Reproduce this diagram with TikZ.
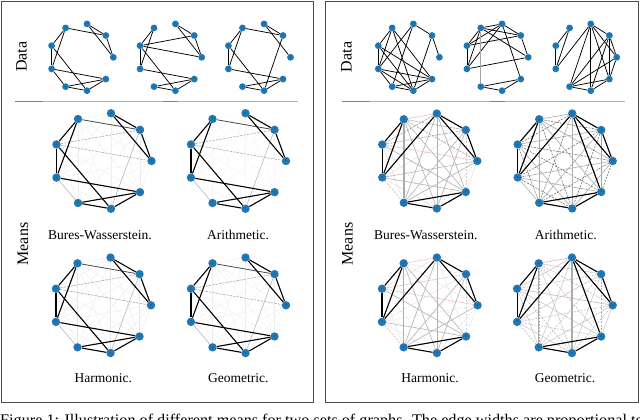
\documentclass[tikz,border=0pt]{standalone}
\usepackage{fontspec}
\setmainfont{Liberation Serif}
\usetikzlibrary{calc}
\pgfdeclarelayer{bg}
\pgfsetlayers{bg,main}
\definecolor{mplblue}{HTML}{1F77B4}
\definecolor{framecol}{HTML}{4A4A4A}
\tikzset{
 vtx/.style={circle,fill=mplblue,inner sep=0pt,minimum size=8.4pt,font=\fontsize{3}{3}\selectfont,text=black!80},
 dvtx/.style={vtx,minimum size=6.8pt,font=\fontsize{2.5}{2.5}\selectfont},
 de/.style={black,line width=0.75pt},
 sA/.style={black,line width=1.1pt},
 sB/.style={black!70,line width=0.8pt},
 sC/.style={gray!60,line width=0.5pt},
 sG/.style={gray!65,line width=1.4pt},
 sD/.style={gray!75,line width=0.5pt,dash pattern=on 2.2pt off 1.3pt},
 sR/.style={red!35,line width=0.45pt,dash pattern=on 2pt off 1.5pt},
 lab/.style={font=\fontsize{13.5}{15}\selectfont,anchor=base,inner sep=0pt},
 side/.style={font=\fontsize{16}{18}\selectfont,rotate=90,inner sep=0pt},
 frame/.style={framecol,line width=0.9pt},
 sepl/.style={gray!60,line width=1pt},
 sepd/.style={gray!100,line width=1pt}
}
% #1 node style, #2 prefix, #3 cx, #4 cy, #5 rx, #6 ry
\newcommand\mkgraph[6]{\foreach \i in {0,...,8}{\node[#1] (#2\i) at ({#3+#5*cos(\i*40)},{#4-#6*sin(\i*40)}) {\i};}}
\newcommand\edg[3]{\begin{pgfonlayer}{bg}\foreach \a/\b in {#3}{\draw[#2] (#1\a) -- (#1\b);}\end{pgfonlayer}}
\newcommand\allp[3]{\begin{pgfonlayer}{bg}\foreach \i in {0,...,7}{\pgfmathtruncatemacro\jj{\i+1}\foreach \k in {\jj,...,8}{\pgfmathtruncatemacro\pp{mod(\i+\k,2)}\ifnum\pp=0 \draw[#2] (#1\i) -- (#1\k);\else\draw[#3] (#1\i) -- (#1\k);\fi}}\end{pgfonlayer}}
\begin{document}
\begin{tikzpicture}[x=1pt,y=-1pt]
\useasboundingbox (0,0) rectangle (640,420);
\begin{pgfonlayer}{bg}
\fill[white] (0,0) rectangle (640,420);
\end{pgfonlayer}
% frames
\draw[frame] (1.5,1.5) rectangle (313.3,402.3);
\draw[frame] (325.7,1.5) rectangle (638.3,402.3);
% separators
\draw[sepl] (15,101) -- (298,101);
\draw[sepd] (15,101) -- (43.3,101);
\draw[sepd] (163.3,101) -- (178.3,101);
\draw[sepl] (341.7,101) -- (625,101);
\draw[sepd] (341.7,101) -- (370,101);
\draw[sepd] (490,101) -- (505,101);
% side labels
\node[side] (dl) at (21.5,56.7) {Data};
\node[side] (ml) at (23,244) {Means};
\node[side] (dr) at (346.5,57) {Data};
\node[side] (mr) at (347.5,244) {Means};
% ---------- left data graphs
\mkgraph{dvtx}{A}{81.5}{57.3}{31.8}{33.9}
\edg{A}{de}{3/1,2/1,2/0,1/0,3/4,3/5,4/5,4/7,5/8,5/6,6/8,6/7,7/8}
\mkgraph{dvtx}{B}{169.9}{57.3}{31.8}{33.9}
\edg{B}{de}{3/4,3/5,4/5,4/1,4/0,4/7,2/1,2/0,1/0,5/8,6/8,6/7,7/8}
\mkgraph{dvtx}{C}{258.5}{57.3}{32}{33.9}
\edg{C}{de}{3/1,2/1,2/0,3/4,3/5,4/5,4/7,1/7,5/8,6/8,6/7,7/8}
% ---------- right data graphs
\mkgraph{dvtx}{D}{407.9}{57.3}{31.5}{33.9}
\edg{D}{de}{3/4,3/5,3/7,3/8,4/5,4/7,4/8,2/1,2/5,2/6,1/0,1/7,5/8,5/7,5/6,6/8,6/7,7/8}
\mkgraph{dvtx}{E}{496.6}{57.3}{31.6}{33.9}
\edg{E}{de}{3/2,3/1,3/4,3/5,3/0,2/1,2/4,2/5,2/8,1/4,1/0,4/5,5/0,6/8,6/7,7/8}
\edg{E}{gray!70,line width=0.75pt}{3/6}
\mkgraph{dvtx}{F}{585.3}{57.3}{31.4}{33.9}
\edg{F}{de}{3/4,3/5,4/5,2/5,2/6,2/7,2/1,2/8,2/0,1/0,1/8,1/6,1/7,0/8,0/6,8/6,8/7,6/7}
% ---------- left means
\mkgraph{vtx}{LB}{102.5}{161}{49}{48.5}
\allp{LB}{gray!13,line width=0.3pt}{gray!13,line width=0.3pt}
\edg{LB}{sD}{4/1,4/0}
\edg{LB}{sC}{5/6,1/7}
\edg{LB}{sB}{3/1}
\edg{LB}{sA}{3/4,3/5,4/5,4/7,5/8,6/8,6/7,7/8,2/1,2/0,1/0}
\mkgraph{vtx}{LA}{237}{161}{49}{48.5}
\allp{LA}{gray!7,line width=0.3pt}{gray!7,line width=0.3pt}
\edg{LA}{sD}{4/1,4/0}
\edg{LA}{sC}{5/6,1/7}
\edg{LA}{sB}{3/1}
\edg{LA}{sA}{3/4,3/5,4/5,4/7,5/8,6/8,6/7,7/8,2/1,2/0,1/0}
\mkgraph{vtx}{LH}{102}{305.3}{49}{48.5}
\allp{LH}{gray!18,line width=0.3pt}{gray!18,line width=0.3pt}
\edg{LH}{sD}{4/1,4/0}
\edg{LH}{sC}{5/6,1/7}
\edg{LH}{sB}{3/1}
\edg{LH}{sA}{3/4,3/5,4/5,4/7,5/8,6/8,6/7,7/8,2/1,2/0,1/0}
\mkgraph{vtx}{LG}{237}{305.3}{49}{48.5}
\allp{LG}{gray!13,line width=0.3pt}{gray!13,line width=0.3pt}
\edg{LG}{sD}{4/1,4/0}
\edg{LG}{sC}{5/6,1/7}
\edg{LG}{sB}{3/1}
\edg{LG}{sA}{3/4,3/5,4/5,4/7,5/8,6/8,6/7,7/8,2/1,2/0,1/0}
% ---------- right means
\mkgraph{vtx}{RB}{428.3}{161}{49}{48.2}
\allp{RB}{gray!28,line width=0.4pt}{gray!38,line width=0.4pt,dash pattern=on 2pt off 1.5pt}
\edg{RB}{sC}{2/7,1/7,2/6,1/6,2/8,3/7,3/8,4/8,5/8,0/6}
\edg{RB}{sD}{4/1,5/0,3/1,2/4,3/0}
\edg{RB}{sR}{4/0,5/6,3/2}
\edg{RB}{sG}{3/6}
\edg{RB}{sA}{3/4,3/5,4/5,2/5,2/1,2/0,1/0,6/8,6/7,7/8}
\mkgraph{vtx}{RA}{563.7}{161}{49}{48.2}
\allp{RA}{black!60,line width=0.5pt,dash pattern=on 2pt off 1.2pt}{gray!70,line width=0.55pt}
\edg{RA}{sG}{3/6,2/7}
\edg{RA}{sA}{3/4,3/5,4/5,2/5,2/1,2/0,1/0,2/8,6/8,6/7,7/8}
\mkgraph{vtx}{RH}{428.3}{305.3}{49.3}{48.5}
\allp{RH}{gray!26,line width=0.35pt}{gray!34,line width=0.35pt,dash pattern=on 2pt off 1.5pt}
\edg{RH}{sC}{2/7,1/7,2/6,1/6,3/7,4/8,5/8,3/8,0/6}
\edg{RH}{sR}{3/2,4/0,5/6,4/1}
\edg{RH}{sG}{3/6}
\edg{RH}{sA}{3/4,3/5,4/5,2/5,2/1,2/0,1/0,6/8,6/7,7/8}
\mkgraph{vtx}{RG}{563.4}{305.3}{49.3}{48.5}
\allp{RG}{gray!50,line width=0.45pt}{gray!60,line width=0.45pt,dash pattern=on 2pt off 1.3pt}
\edg{RG}{sR}{3/2,4/0}
\edg{RG}{sG}{3/6,2/7}
\edg{RG}{sA}{3/4,3/5,4/5,2/5,2/1,2/0,1/0,2/8,6/8,6/7,7/8}
% ---------- labels
\node[lab] (t1) at (100,239.3) {Bures-Wasserstein.};
\node[lab] (t2) at (238,239.3) {Arithmetic.};
\node[lab] (t3) at (103.3,382.4) {Harmonic.};
\node[lab] (t4) at (238.3,382.4) {Geometric.};
\node[lab] (t5) at (425.8,239) {Bures-Wasserstein.};
\node[lab] (t6) at (565.8,239) {Arithmetic.};
\node[lab] (t7) at (430,382.4) {Harmonic.};
\node[lab] (t8) at (565,382.4) {Geometric.};
% caption (cut off by the page edge)
\begin{scope}
\clip (0,0) rectangle (640,420);
\node[anchor=base west,inner sep=0pt,font=\fontsize{16.2}{18}\selectfont] (cap) at (0,425.5) {Figure 1: Illustration of different means for two sets of graphs. The edge widths are proportional to};
\end{scope}
\end{tikzpicture}
\end{document}
